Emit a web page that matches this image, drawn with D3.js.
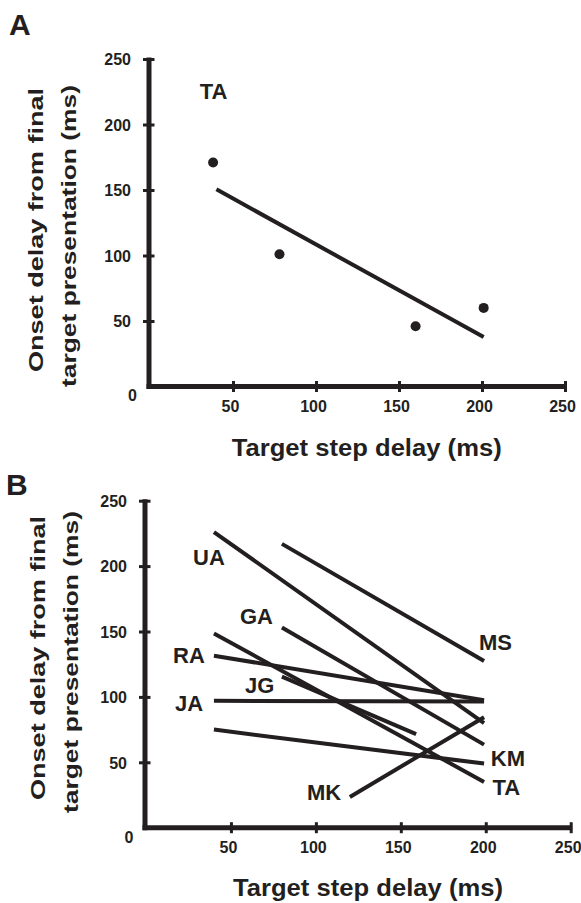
<!DOCTYPE html>
<html>
<head>
<meta charset="utf-8">
<script src="https://cdn.jsdelivr.net/npm/d3@7"></script>
<style>
  html, body { margin: 0; padding: 0; background: #fff; }
  svg { display: block; }
  text { font-family: "Liberation Sans", Arial, Helvetica, sans-serif; font-weight: bold; fill: #231f20; }
</style>
</head>
<body>
<svg id="chart" width="581" height="903"></svg>
<script>
// ---------- data ----------
const xTickValues = [50, 100, 150, 200, 250];
const yTickValues = [50, 100, 150, 200, 250];
const xTitle = "Target step delay (ms)";
const yTitleLines = ["Onset delay from final", "target presentation (ms)"];

// Panel A: subject TA, onset delay vs target step delay, with linear fit
const aSubject = "TA";
const aDelay = [38, 78, 160, 201];
const aOnset = [171, 101, 46, 60];
const aFitDelay = [40, 201];
const aFitOnset = [150.5, 37.7];

// Panel B: fitted lines per subject
const bSubjects = ["UA", "MS", "GA", "TA", "RA", "JA", "JG", "KM", "MK"];
const bStartDelay = [40, 80, 80, 40, 40, 40, 80, 40, 120];
const bStartOnset = [226, 217, 153, 148.5, 131.5, 97, 115.5, 75, 23.5];
const bEndDelay = [199, 199, 199, 199, 199, 199, 159, 199, 199];
const bEndOnset = [80, 127.5, 63.5, 35, 97.5, 96.5, 71.5, 49, 84.5];

// label anchors (in data units)
const aLabelAt = [30, 219.5];
const bLabelAt = {
  UA: [27.7, 200.8], MS: [196, 135.9], GA: [55.3, 155.7], TA: [204, 25],
  RA: [15.9, 125.9], JA: [17.1, 89.2], JG: [58.3, 103], KM: [203, 47.2], MK: [94.8, 21.2]
};

// ---------- drawing ----------
const svg = d3.select("#chart");
const ink = "#231f20";

function panel(cfg) {
  const g = svg.append("g");
  const x = d3.scaleLinear().domain([0, 250]).range(cfg.xRange);
  const y = d3.scaleLinear().domain([0, 250]).range(cfg.yRange);
  const ax = cfg.axisX;   // y-axis line x position
  const ay = y(0);        // x-axis line y position

  // axis lines
  g.append("line").attr("x1", ax).attr("x2", ax)
    .attr("y1", ay + 2.5).attr("y2", y(250) - 1.5)
    .attr("stroke", ink).attr("stroke-width", 5);
  g.append("line").attr("x1", ax - 2.5).attr("x2", x(250) + 1.5)
    .attr("y1", ay).attr("y2", ay)
    .attr("stroke", ink).attr("stroke-width", 5);

  // x axis ticks
  const xa = g.append("g").attr("transform", `translate(0,${ay})`)
    .call(d3.axisBottom(x).tickValues(xTickValues).tickSizeOuter(0).tickPadding(0));
  xa.select(".domain").remove();
  xa.selectAll(".tick line").attr("y1", -5.5).attr("y2", 5.5)
    .attr("stroke", ink).attr("stroke-width", 3);
  xa.selectAll(".tick text").attr("y", 25).attr("dy", 0).attr("x", -3)
    .attr("font-size", 16).attr("fill", ink)
    .style("font-family", '"Liberation Sans", Arial, sans-serif').style("font-weight", "bold");

  // y axis ticks
  const ya = g.append("g").attr("transform", `translate(${ax},0)`)
    .call(d3.axisLeft(y).tickValues(yTickValues).tickSizeOuter(0).tickPadding(0));
  ya.select(".domain").remove();
  ya.selectAll(".tick line").attr("x1", -6).attr("x2", 5.5)
    .attr("stroke", ink).attr("stroke-width", 3);
  ya.selectAll(".tick text").attr("x", -18).attr("dy", "0.36em")
    .attr("font-size", 16).attr("fill", ink)
    .style("font-family", '"Liberation Sans", Arial, sans-serif').style("font-weight", "bold");

  // zero label at the corner
  g.append("text").attr("x", ax + cfg.zeroDx).attr("y", ay + cfg.zeroDy)
    .attr("text-anchor", "end").attr("font-size", 16).text("0");

  // axis titles
  g.append("text").attr("x", cfg.xTitleX).attr("y", cfg.xTitleY)
    .attr("text-anchor", "middle").attr("font-size", 23)
    .attr("textLength", 270).attr("lengthAdjust", "spacingAndGlyphs")
    .text(xTitle);
  yTitleLines.forEach((t, i) => {
    g.append("text")
      .attr("transform", `translate(${cfg.yTitleX[i]},${cfg.yTitleC[i]}) rotate(-90)`)
      .attr("text-anchor", "middle").attr("font-size", 21)
      .attr("textLength", i === 0 ? 284 : 302).attr("lengthAdjust", "spacingAndGlyphs")
      .text(t);
  });

  // panel letter
  g.append("text").attr("x", cfg.letterX).attr("y", cfg.letterY)
    .attr("font-size", 30).text(cfg.letter);

  return { g, x, y };
}

// Panel A
const A = panel({
  letter: "A", letterX: 9, letterY: 35,
  xRange: [150, 565], yRange: [386.5, 59], axisX: 149,
  zeroDx: -12, zeroDy: 14,
  xTitleX: 366.7, xTitleY: 456,
  yTitleX: [43, 76], yTitleC: [230, 236]
});
const aPts = aDelay.map((d, i) => ({ x: d, y: aOnset[i] }));
A.g.selectAll("circle.pt").data(aPts).join("circle").attr("class", "pt")
  .attr("cx", d => A.x(d.x)).attr("cy", d => A.y(d.y)).attr("r", 5).attr("fill", ink);
A.g.append("line")
  .attr("x1", A.x(aFitDelay[0])).attr("y1", A.y(aFitOnset[0]))
  .attr("x2", A.x(aFitDelay[1])).attr("y2", A.y(aFitOnset[1]))
  .attr("stroke", ink).attr("stroke-width", 4);
A.g.append("text").attr("x", A.x(aLabelAt[0])).attr("y", A.y(aLabelAt[1]))
  .attr("font-size", 22).text(aSubject);

// Panel B
const B = panel({
  letter: "B", letterX: 6, letterY: 495,
  xRange: [146, 570.7], yRange: [827.7, 500.7], axisX: 145,
  zeroDx: -11.5, zeroDy: 15,
  xTitleX: 368, xTitleY: 896,
  yTitleX: [45, 78], yTitleC: [658, 662]
});
const bLines = bSubjects.map((s, i) => ({
  s, x0: bStartDelay[i], y0: bStartOnset[i], x1: bEndDelay[i], y1: bEndOnset[i]
}));
B.g.selectAll("line.subj").data(bLines).join("line").attr("class", "subj")
  .attr("x1", d => B.x(d.x0)).attr("y1", d => B.y(d.y0))
  .attr("x2", d => B.x(d.x1)).attr("y2", d => B.y(d.y1))
  .attr("stroke", ink).attr("stroke-width", 4);
B.g.selectAll("text.lab").data(bSubjects).join("text").attr("class", "lab")
  .attr("x", s => B.x(bLabelAt[s][0])).attr("y", s => B.y(bLabelAt[s][1]))
  .attr("font-size", 22).text(s => s);
</script>
</body>
</html>
